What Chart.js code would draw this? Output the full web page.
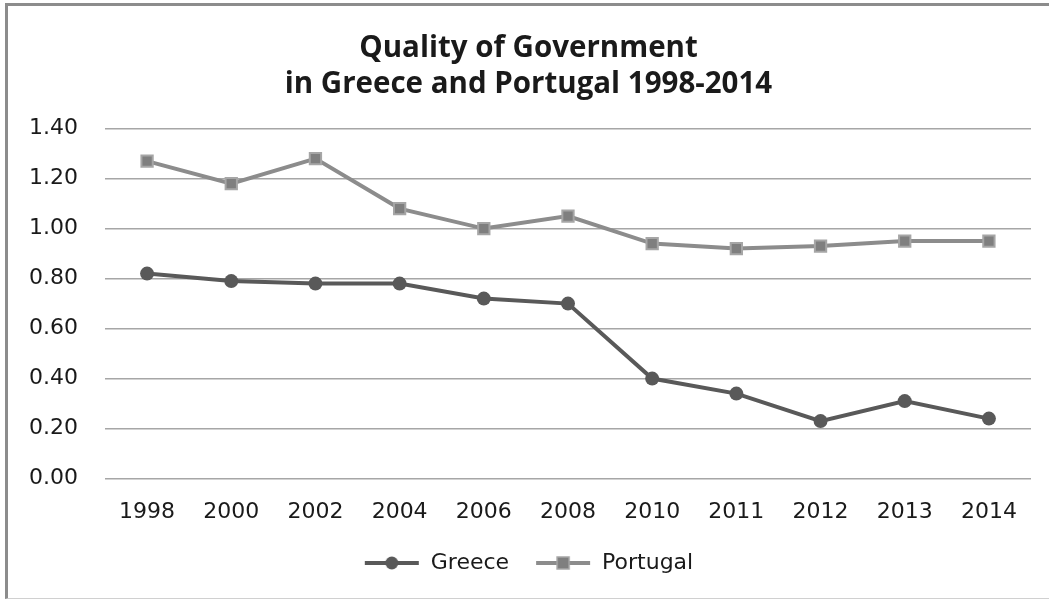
<!DOCTYPE html>
<html>
  <head>
    <title>
      Quality of Government
    </title>
    <script src="https://cdn.jsdelivr.net/npm/chart.js"></script>
    <style>
      body { margin: 0; background: #fff; }
      #wrap { position: relative; width: 1049px; height: 600px; }
      #frame {
        position: absolute; left: 5px; top: 3px; width: 1100px; height: 592px;
        border-left: 3px solid #8c8c8c; border-top: 3px solid #8c8c8c;
        border-bottom: 1px solid #d0d0d0; pointer-events: none;
      }
    </style>
  </head>
  <body>
    <div id="wrap">
      <canvas id="myChart" width="1049" height="600"></canvas>
      <div id="frame"></div>
    </div>
    <script>
      'use strict'
      const years = ['1998', '2000', '2002', '2004', '2006', '2008', '2010', '2011', '2012', '2013', '2014'];
      const greece = [0.82, 0.79, 0.78, 0.78, 0.72, 0.70, 0.40, 0.34, 0.23, 0.31, 0.24];
      const portugal = [1.27, 1.18, 1.28, 1.08, 1.00, 1.05, 0.94, 0.92, 0.93, 0.95, 0.95];
      const titleLines = ['Quality of Government', 'in Greece and Portugal 1998-2014'];

      const greeceColor = '#595959';
      const portugalColor = '#8c8c8c';
      const textFont = "'DejaVu Sans', sans-serif";

      // legend icon: short line with the marker in the middle
      function legendIcon(line, fill, border, square) {
        const c = document.createElement('canvas');
        c.width = 56;
        c.height = 16;
        const g = c.getContext('2d');
        g.strokeStyle = line;
        g.lineWidth = 4;
        g.beginPath();
        g.moveTo(1, 8);
        g.lineTo(55, 8);
        g.stroke();
        g.fillStyle = fill;
        if (square) {
          g.fillRect(22, 2, 12, 12);
          g.strokeStyle = border;
          g.lineWidth = 1.5;
          g.strokeRect(22, 2, 12, 12);
        } else {
          g.beginPath();
          g.arc(28, 8, 6.5, 0, Math.PI * 2);
          g.fill();
        }
        return c;
      }

      const ctx = document.getElementById('myChart');

      new Chart(ctx, {
        type: 'line',
        data: {
          labels: years,
          datasets: [{
            label: 'Greece',
            data: greece,
            borderColor: greeceColor,
            backgroundColor: greeceColor,
            borderWidth: 4,
            pointStyle: 'circle',
            pointRadius: 7,
            pointBorderWidth: 0,
            pointBackgroundColor: greeceColor,
            tension: 0,
          }, {
            label: 'Portugal',
            data: portugal,
            borderColor: portugalColor,
            backgroundColor: '#7f7f7f',
            borderWidth: 4,
            pointStyle: 'rect',
            pointRadius: 8,
            pointBorderWidth: 2,
            pointBackgroundColor: '#7f7f7f',
            pointBorderColor: '#a6a6a6',
            tension: 0,
          }]
        },
        options: {
          responsive: false,
          animation: false,
          layout: {
            padding: { left: 26, right: 18, top: 0, bottom: 16 }
          },
          plugins: {
            title: {
              display: true,
              text: titleLines,
              color: '#1a1a1a',
              font: { family: "'Open Sans', sans-serif", size: 29.5, weight: 'bold', lineHeight: 1.23 },
              padding: { top: 30, bottom: 26 },
            },
            legend: {
              position: 'bottom',
              labels: {
                usePointStyle: true,
                pointStyleWidth: 56,
                color: '#1a1a1a',
                font: { family: textFont, size: 22 },
                padding: 26,
                generateLabels: chart => chart.data.datasets.map((ds, i) => ({
                  text: ds.label,
                  datasetIndex: i,
                  fontColor: '#1a1a1a',
                  pointStyle: i === 0
                    ? legendIcon(greeceColor, greeceColor, greeceColor, false)
                    : legendIcon(portugalColor, '#7f7f7f', '#a6a6a6', true),
                  hidden: false,
                })),
              },
            },
            tooltip: { enabled: false },
          },
          scales: {
            x: {
              offset: true,
              grid: { display: false },
              border: { display: false },
              ticks: {
                color: '#1a1a1a',
                font: { family: textFont, size: 22 },
                padding: 12,
                maxRotation: 0,
              },
              // pull the legend up closer to the year labels
              afterFit: scale => { scale.height -= 11; },
            },
            y: {
              min: 0,
              max: 1.4,
              grid: { color: '#a6a6a6', lineWidth: 1.5, drawTicks: false },
              border: { display: false },
              ticks: {
                stepSize: 0.2,
                color: '#1a1a1a',
                font: { family: textFont, size: 22 },
                padding: 27,
                callback: value => value.toFixed(2),
              },
              // keep the plot edge where it was while the title sits a bit further right
              afterFit: scale => { scale.width -= 24; },
            },
          },
        },
      });
    </script>
  </body>
</html>
